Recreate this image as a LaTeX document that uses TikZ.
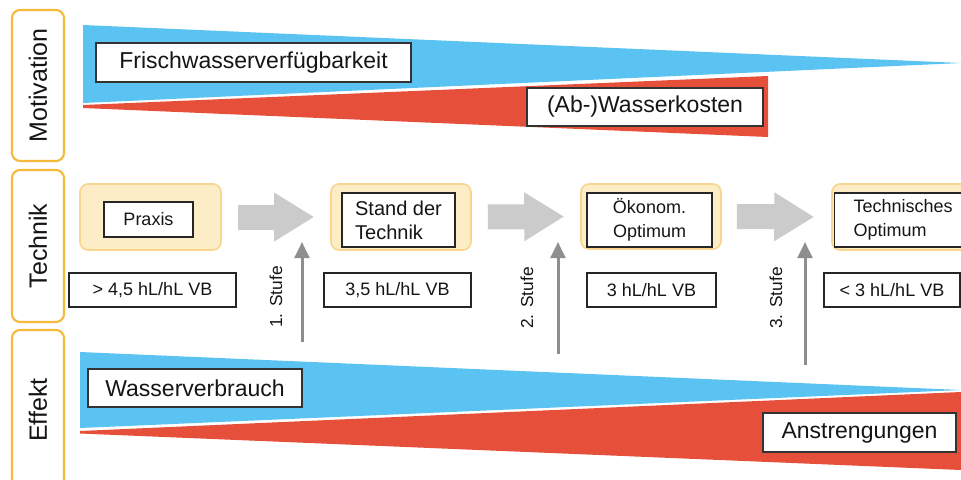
\documentclass[tikz,border=0pt]{standalone}
\usepackage{fontspec}
\setmainfont{Liberation Sans}
\usetikzlibrary{arrows.meta}

\definecolor{bandblue}{HTML}{5BC3F1}
\definecolor{bandred}{HTML}{E6503A}
\definecolor{sideorange}{HTML}{F5B93C}
\definecolor{stagefill}{HTML}{FDEDC6}
\definecolor{stageline}{HTML}{F8D690}
\definecolor{flowgray}{HTML}{CBCBCB}
\definecolor{stufegray}{HTML}{8E8E8E}
\definecolor{ink}{HTML}{151515}

\tikzset{
  sidebox/.style={draw=sideorange, line width=1.6pt, rounded corners=6pt, fill=white,
    rotate=90, inner sep=0pt, text=ink, font=\fontsize{18.75}{22}\selectfont},
  tagbox/.style={draw=black!80, line width=1.1pt, fill=white, inner sep=0pt,
    text=ink, font=\fontsize{17.25}{20}\selectfont},
  stagebg/.style={draw=stageline, line width=1.2pt, fill=stagefill, rounded corners=6pt, inner sep=0pt},
  stagebox/.style={draw=black!85, line width=1.1pt, fill=white, inner sep=0pt,
    text=ink, font=\fontsize{13.5}{18}\selectfont},
  valbox/.style={draw=black!85, line width=1.1pt, fill=white, inner sep=0pt,
    minimum height=25.5pt, text=ink, font=\fontsize{13.5}{16}\selectfont},
  flow/.style={draw=flowgray, line width=18.75pt, -{Triangle[width=34.5pt,length=30pt]}},
  stufe/.style={draw=stufegray, line width=2.25pt, -{Triangle[width=11pt,length=12pt]}},
  stufetext/.style={rotate=90, text=ink, inner sep=0pt, font=\fontsize{13}{15}\selectfont}
}

\begin{document}
\begin{tikzpicture}[x=0.75pt, y=-0.75pt]
\clip (0,0) rectangle (961,479);
\fill[white] (0,0) rectangle (961,479);

% row labels
\node[sidebox, minimum width=113.25pt, minimum height=39pt] (mot) at (38,85.5) {Motivation};
\node[sidebox, minimum width=114pt, minimum height=39pt] (tech) at (38,246) {Technik};
\node[sidebox, minimum width=120pt, minimum height=39pt] (eff) at (38,410) {Effekt};

% motivation wedges
\fill[bandblue] (83,25) -- (961,63) -- (83,103) -- cycle;
\fill[bandred] (83,105) -- (768,76) -- (768,137) -- (83,108) -- cycle;
\node[tagbox, minimum width=236.25pt, minimum height=29.25pt] (frisch) at (253.5,62.5) {Frischwasserverfügbarkeit};
\node[tagbox, minimum width=177pt, minimum height=28.5pt] (kosten) at (645,107) {(Ab-)Wasserkosten};

% effect wedges
\fill[bandblue] (80,352) -- (961,390) -- (80,428) -- cycle;
\fill[bandred] (80,431) -- (961,392) -- (961,470) -- (80,433.5) -- cycle;
\node[tagbox, minimum width=160.5pt, minimum height=28.5pt] (wasser) at (195,388) {Wasserverbrauch};
\node[tagbox, minimum width=144.75pt, minimum height=29.25pt] (anstr) at (859.5,432.5) {Anstrengungen};

% technology stages
\node[stagebg, minimum width=105.75pt, minimum height=49.5pt] (praxisbg) at (150.5,217) {};
\node[stagebox, minimum width=66.75pt, minimum height=26.25pt] (praxis) at (148.5,219.5) {Praxis};

\node[stagebg, minimum width=105pt, minimum height=49.5pt] (standbg) at (401,217) {};
\node[stagebox, minimum width=84.75pt, minimum height=40.5pt, align=left,
      font=\fontsize{15}{18}\selectfont] (stand) at (398.5,220) {Stand der\\Technik};

\node[stagebg, minimum width=105pt, minimum height=48.75pt] (oekbg) at (651,216.5) {};
\node[stagebox, minimum width=93.75pt, minimum height=40.5pt, align=center] (oek) at (649.5,220) {Ökonom.\\Optimum};

\node[stagebg, minimum width=108pt, minimum height=49.5pt] (techbg) at (904,217) {};
\node[stagebox, minimum height=40.5pt, text width=75.75pt, inner xsep=14.25pt, align=left] (techopt) at (904,220) {Technisches\\Optimum};

% consumption values
\node[valbox, minimum width=125.25pt] (v1) at (152.5,290) {> 4,5 hL/hL VB};
\node[valbox, minimum width=110.25pt] (v2) at (397.5,290) {3,5 hL/hL VB};
\node[valbox, minimum width=96.75pt] (v3) at (651.5,290) {3 hL/hL VB};
\node[valbox, minimum width=102pt] (v4) at (892,290) {< 3 hL/hL VB};

% progression arrows
\draw[flow, shorten <=12pt, shorten >=12pt] (praxisbg.east) -- (standbg.west);
\draw[flow, shorten <=12pt, shorten >=12pt] (standbg.east) -- (oekbg.west);
\draw[flow, shorten <=11.25pt, shorten >=12.75pt] (oekbg.east) -- (techbg.west);

% stage steps
\coordinate (s1a) at (302,342); \coordinate (s1b) at (302,242);
\coordinate (s2a) at (558,354); \coordinate (s2b) at (558,242);
\coordinate (s3a) at (805,365); \coordinate (s3b) at (805,242);
\draw[stufe] (s1a) -- (s1b);
\draw[stufe] (s2a) -- (s2b);
\draw[stufe] (s3a) -- (s3b);
\node[stufetext] (t1) at (276,297) {1. Stufe};
\node[stufetext] (t2) at (527,298) {2. Stufe};
\node[stufetext] (t3) at (776,298) {3. Stufe};
\end{tikzpicture}
\end{document}
